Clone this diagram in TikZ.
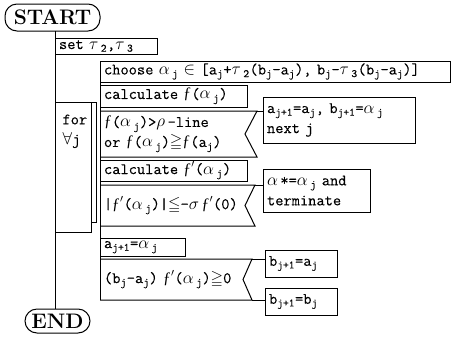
\documentclass[tikz,border=0pt]{standalone}
\usepackage{amssymb}
\usepackage{fontspec}
\usepackage{tikz}
\usetikzlibrary{positioning, calc}
\newfontfamily\padfont{Latin Modern Mono}[FakeBold=0.2]
\newfontfamily\hookfont{Liberation Serif}
\newcommand{\fh}{{\hookfont ƒ}}
\newcommand{\ssub}[1]{\textsubscript{#1}}
\newcommand{\gk}[1]{$#1$\hspace{2.5pt}}

\begin{document}
\begin{tikzpicture}[x=1pt, y=-1pt, line width=1pt,
    padbox/.style={draw, outer sep=0pt, inner xsep=4pt, inner ysep=0pt, anchor=north west,
                   align=left, font=\padfont\fontsize{16}{20}\selectfont},
    padcase/.style={padbox, draw=none},
    terminal/.style={draw, outer sep=0pt, inner sep=0pt, rounded corners=12pt,
                     font=\fontsize{21}{21}\selectfont\bfseries}]
    \useasboundingbox (0,0) rectangle (452,338);

    % Start and end of the program
    \node[terminal, minimum width=95pt, minimum height=27pt] (start) at (52.5,17.5) {START};
    \node[terminal, minimum width=65pt, minimum height=24pt] (finish) at (57.5,321) {END};

    % Outer sequence
    \node[padbox, text width=94pt, minimum height=16pt] (settau) at (55,38) {set \gk{\tau}\ssub{2},\gk{\tau}\ssub{3}};
    \node[padbox, minimum width=36pt, minimum height=130pt] (forbox) at (55,102) {};
    \node[anchor=north west, inner sep=0pt, align=left, font=\padfont\fontsize{16}{20}\selectfont] (forlbl) at (62,114) {for\\$\forall$j};
    \draw (forbox.north east) rectangle ++(5,120);
    \draw (start.south -| settau.west) -- (finish.north -| settau.west);

    % Loop body
    \node[padbox, text width=342pt, minimum height=21pt] (choose) at (100,61)
        {choose \gk{\alpha}\ssub{j} $\in$ [a\ssub{j}+\gk{\tau}\ssub{2}(b\ssub{j}-a\ssub{j}), b\ssub{j}-\gk{\tau}\ssub{3}(b\ssub{j}-a\ssub{j})]};
    \node[padbox, text width=139pt, minimum height=22pt] (calcf) at (100,85) {calculate \fh(\gk{\alpha}\ssub{j})};
    \node[padcase, text width=149pt, minimum height=46pt] (dec1) at (100,111)
        {\fh(\gk{\alpha}\ssub{j})>\gk{\rho}-line\\or \fh(\gk{\alpha}\ssub{j})$\geqq$\fh(a\ssub{j})};
    \node[padbox, text width=144pt, minimum height=46pt] (nextj) at (263,97)
        {a\ssub{j+1}=a\ssub{j}, b\ssub{j+1}=\gk{\alpha}\ssub{j}\\next j};
    \node[padbox, text width=139pt, minimum height=21pt] (calcfd) at (100,160) {calculate \fh$'$(\gk{\alpha}\ssub{j})};
    \node[padcase, text width=147pt, minimum height=41pt] (dec2) at (100,185)
        {|\fh$'$(\gk{\alpha}\ssub{j})|$\leqq$-\gk{\sigma}\fh$'$(0)};
    \node[padbox, text width=99pt, minimum height=43pt] (term) at (263,169)
        {\gk{\alpha}*=\gk{\alpha}\ssub{j} and\\terminate};
    \node[padbox, text width=77pt, minimum height=18pt] (anext) at (100,238) {a\ssub{j+1}=\gk{\alpha}\ssub{j}};
    \node[padcase, text width=144pt, minimum height=41pt] (dec3) at (100,259)
        {(b\ssub{j}-a\ssub{j}) \fh$'$(\gk{\alpha}\ssub{j})$\geqq$0};
    \node[padbox, text width=64pt, minimum height=27pt] (bnexta) at (265,250) {b\ssub{j+1}=a\ssub{j}};
    \node[padbox, text width=64pt, minimum height=27pt] (bnextb) at (265,288) {b\ssub{j+1}=b\ssub{j}};

    \draw (choose.north west) -- (dec3.south west);
    \foreach \d/\n in {dec1/12, dec2/10, dec3/9} {
        \draw (\d.north west) -- (\d.north east) -- ([xshift=-\n pt]\d.east) -- (\d.south east) -- (\d.south west);
    }

    % Branches
    \draw (dec1.north east) -- (dec1.north east -| nextj.west);
    \draw (dec2.north east) -- (dec2.north east -| term.west);
    \draw (dec3.north east) -- (dec3.north east -| bnexta.west);
    \draw (dec3.south east) -- (dec3.south east -| bnextb.west);
\end{tikzpicture}
\end{document}
